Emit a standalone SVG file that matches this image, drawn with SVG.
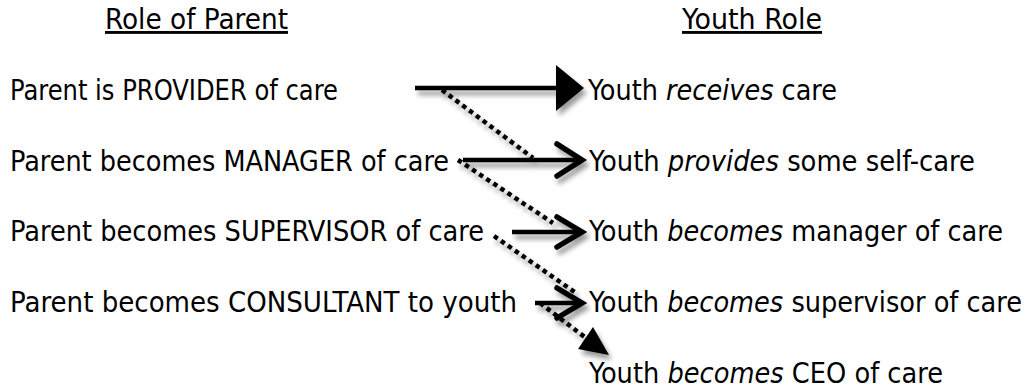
<svg xmlns="http://www.w3.org/2000/svg" width="1026" height="388" viewBox="0 0 1026 388">
  <defs>
    <style>
      .t { font-family: "DejaVu Sans Condensed", "DejaVu Sans", Verdana, sans-serif; font-size: 28.5px; fill: #000; }
      .hd { text-decoration: underline; }
      .it { font-style: italic; }
      .solid { stroke: #000; stroke-width: 4.5; fill: none; }
      .chev { stroke: #000; stroke-width: 5.5; fill: none; stroke-linecap: round; stroke-linejoin: miter; }
      .dot { stroke: #000; stroke-width: 4.5; fill: none; stroke-dasharray: 4.5 4; }
      .head { fill: #000; stroke: none; }
    </style>
    <filter id="sh" x="-20%" y="-20%" width="140%" height="160%">
      <feGaussianBlur in="SourceAlpha" stdDeviation="2.5"/>
      <feOffset dx="3" dy="5" result="b"/>
      <feComponentTransfer><feFuncA type="linear" slope="0.4"/></feComponentTransfer>
      <feMerge><feMergeNode/><feMergeNode in="SourceGraphic"/></feMerge>
    </filter>
  </defs>
  <rect width="1026" height="388" fill="#fff"/>

  <g id="header-parent"><text class="t hd" x="105" y="29" textLength="183" lengthAdjust="spacingAndGlyphs">Role of Parent</text></g>
  <g id="header-youth"><text class="t hd" x="682" y="29" textLength="140" lengthAdjust="spacingAndGlyphs">Youth Role</text></g>

  <g id="p1"><text class="t" x="10" y="100" textLength="328" lengthAdjust="spacingAndGlyphs">Parent is PROVIDER of care</text></g>
  <g id="p2"><text class="t" x="10" y="171" textLength="439" lengthAdjust="spacingAndGlyphs">Parent becomes MANAGER of care</text></g>
  <g id="p3"><text class="t" x="10" y="241" textLength="474" lengthAdjust="spacingAndGlyphs">Parent becomes SUPERVISOR of care</text></g>
  <g id="p4"><text class="t" x="10" y="312" textLength="507" lengthAdjust="spacingAndGlyphs">Parent becomes CONSULTANT to youth</text></g>

  <g id="y1"><text class="t" x="588" y="100" textLength="249" lengthAdjust="spacingAndGlyphs">Youth <tspan class="it">receives</tspan> care</text></g>
  <g id="y2"><text class="t" x="589" y="171" textLength="386" lengthAdjust="spacingAndGlyphs">Youth <tspan class="it">provides</tspan> some self-care</text></g>
  <g id="y3"><text class="t" x="589" y="241" textLength="414" lengthAdjust="spacingAndGlyphs">Youth <tspan class="it">becomes</tspan> manager of care</text></g>
  <g id="y4"><text class="t" x="589" y="312" textLength="433" lengthAdjust="spacingAndGlyphs">Youth <tspan class="it">becomes</tspan> supervisor of care</text></g>
  <g id="y5"><text class="t" x="589" y="383" textLength="354" lengthAdjust="spacingAndGlyphs">Youth <tspan class="it">becomes</tspan> CEO of care</text></g>

  <g id="connectors" filter="url(#sh)">
    <line class="solid" x1="415" y1="88" x2="560" y2="88"/>
    <polygon class="head" points="556,65 584,88 556,111"/>

    <line class="solid" x1="463" y1="160" x2="580" y2="160"/>
    <polyline class="chev" points="557,144 582,160 557,176"/>

    <line class="solid" x1="512" y1="232" x2="580" y2="232"/>
    <polyline class="chev" points="557,217 582,232 557,247"/>

    <line class="solid" x1="535" y1="303" x2="580" y2="303"/>
    <polyline class="chev" points="557,288 582,303 557,318"/>

    <line class="dot" x1="442" y1="90" x2="533" y2="158"/>
    <line class="dot" x1="458" y1="160" x2="553" y2="223"/>
    <line class="dot" x1="494" y1="236" x2="576" y2="293"/>
    <line class="dot" x1="540" y1="303" x2="586" y2="338"/>
    <polygon class="head" points="593,327 609,355 578,349"/>
  </g>
</svg>
